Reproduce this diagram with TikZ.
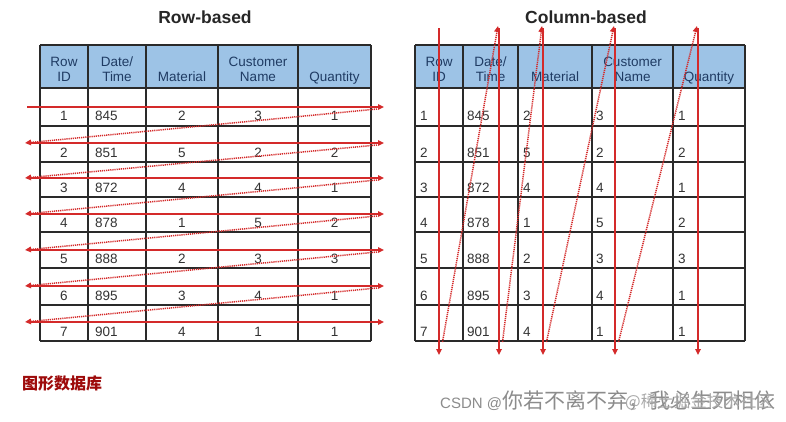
\documentclass[tikz,border=0pt]{standalone}
\usepackage{fontspec}
\setmainfont{Liberation Sans}
\newfontfamily\cjk{Noto Sans CJK SC}
\usetikzlibrary{arrows.meta}
\definecolor{hdrfill}{HTML}{9DC3E6}
\definecolor{hdrtext}{HTML}{1F3B63}
\definecolor{bodytext}{HTML}{333333}
\definecolor{gridc}{HTML}{2A2A2A}
\definecolor{arrowred}{HTML}{D42A2A}
\definecolor{titlered}{HTML}{9E0B0B}
\definecolor{wmgray}{HTML}{8C8C8C}
\definecolor{wmgray2}{HTML}{A8A8A8}
\begin{document}
\begin{tikzpicture}[x=1pt,y=-1pt,
  cell/.style={inner sep=0pt, font=\fontsize{13.5}{16}\selectfont, text=bodytext, anchor=base},
  lcell/.style={cell, anchor=base west},
  hdr/.style={inner sep=0pt, font=\fontsize{13.5}{16}\selectfont, text=hdrtext, anchor=base},
  title/.style={inner sep=0pt, font=\bfseries\fontsize{17.5}{20}\selectfont, text=black!85, anchor=base},
  gridline/.style={draw=gridc, line width=1.3pt},
  solidarrow/.style={draw=arrowred, line width=1.6pt, -{Triangle[length=6pt,width=5.5pt]}},
  dotarrow/.style={draw=arrowred, line width=1.5pt, dash pattern=on 1.2pt off 0.9pt, -{Triangle[length=6pt,width=5.5pt]}},
]
\useasboundingbox (0,0) rectangle (786,421);
\fill[white] (0,0) rectangle (786,421);

% titles
\node[title] (t1) at (205,23) {Row-based};
\node[title] (t2) at (586,23) {Column-based};

% ---------- left table ----------
\fill[hdrfill] (40,45) rectangle (371,88);
\foreach \x in {40,88,146,218,298,371} \draw[gridline] (\x,45) -- (\x,341);
\foreach \y in {45,88,126,162,197,232,268,305,341} \draw[gridline] (40,\y) -- (371,\y);

\node[hdr] (lh1a) at (64,66) {Row};
\node[hdr] (lh1b) at (64,81) {ID};
\node[hdr] (lh2a) at (117,66) {Date/};
\node[hdr] (lh2b) at (117,81) {Time};
\node[hdr] (lh3) at (182,81) {Material};
\node[hdr] (lh4a) at (258,66) {Customer};
\node[hdr] (lh4b) at (258,81) {Name};
\node[hdr] (lh5) at (334.5,81) {Quantity};

\foreach \r/\a/\b/\c/\d/\e/\bs in {1/1/845/2/3/1/120, 2/2/851/5/2/2/157, 3/3/872/4/4/1/192,
  4/4/878/1/5/2/227, 5/5/888/2/3/3/263, 6/6/895/3/4/1/300, 7/7/901/4/1/1/336} {
  \node[cell] (la\r) at (64,\bs) {\a};
  \node[lcell] (lb\r) at (95,\bs) {\b};
  \node[cell] (lc\r) at (182,\bs) {\c};
  \node[cell] (ld\r) at (258,\bs) {\d};
  \node[cell] (le\r) at (334.5,\bs) {\e};
}

% ---------- right table ----------
\fill[hdrfill] (415,45) rectangle (745,88);
\foreach \x in {415,463,518,592,673,745} \draw[gridline] (\x,45) -- (\x,341);
\foreach \y in {45,88,126,162,197,232,268,305,341} \draw[gridline] (415,\y) -- (745,\y);

\node[hdr] (rh1a) at (439,66) {Row};
\node[hdr] (rh1b) at (439,81) {ID};
\node[hdr] (rh2a) at (490.5,66) {Date/};
\node[hdr] (rh2b) at (490.5,81) {Time};
\node[hdr] (rh3) at (555,81) {Material};
\node[hdr] (rh4a) at (632.5,66) {Customer};
\node[hdr] (rh4b) at (632.5,81) {Name};
\node[hdr] (rh5) at (709,81) {Quantity};

\foreach \r/\a/\b/\c/\d/\e/\bs in {1/1/845/2/3/1/120, 2/2/851/5/2/2/157, 3/3/872/4/4/1/192,
  4/4/878/1/5/2/227, 5/5/888/2/3/3/263, 6/6/895/3/4/1/300, 7/7/901/4/1/1/336} {
  \node[lcell] (ra\r) at (420,\bs) {\a};
  \node[lcell] (rb\r) at (467,\bs) {\b};
  \node[lcell] (rc\r) at (523,\bs) {\c};
  \node[lcell] (rd\r) at (596,\bs) {\d};
  \node[lcell] (re\r) at (678,\bs) {\e};
}

% ---------- row-based arrows ----------
\foreach \i/\y in {1/107,2/143,3/178,4/214,5/250,6/286,7/322} {
  \coordinate (hs\i) at (27,\y);
  \coordinate (he\i) at (384,\y);
  \coordinate (ds\i) at (377,\y+2);
  \coordinate (dt\i) at (25,\y);
}
\foreach \i in {1,...,7} \draw[solidarrow] (hs\i) -- (he\i);
\foreach \i/\j in {1/2,2/3,3/4,4/5,5/6,6/7} \draw[dotarrow] (ds\i) -- (dt\j);

% ---------- column-based arrows ----------
\foreach \i/\x in {1/439,2/499,3/543,4/615,5/698} {
  \coordinate (vs\i) at (\x,28);
  \coordinate (ve\i) at (\x,355);
  \coordinate (vb\i) at (\x+3.5,342);
  \coordinate (vt\i) at (\x-1,26);
}
\foreach \i in {1,...,5} \draw[solidarrow] (vs\i) -- (ve\i);
\foreach \i/\j in {1/2,2/3,3/4,4/5} \draw[dotarrow] (vb\i) -- (vt\j);

% ---------- captions ----------
\node[inner sep=0pt, anchor=west, text=titlered, font=\cjk\bfseries\fontsize{16}{18}\selectfont] (cap) at (22,383) {图形数据库};
\node[inner sep=0pt, anchor=base west, text=wmgray] (wm1) at (440,408)
  {\fontsize{15}{18}\selectfont CSDN @\cjk\fontsize{21}{23}\selectfont 你若不离不弃，我必生死相依};
\node[inner sep=0pt, anchor=base east, text=wmgray2, font=\cjk\fontsize{16.5}{18}\selectfont] (wm2) at (773,407) {@稀土掘金技术社区};
\end{tikzpicture}
\end{document}
